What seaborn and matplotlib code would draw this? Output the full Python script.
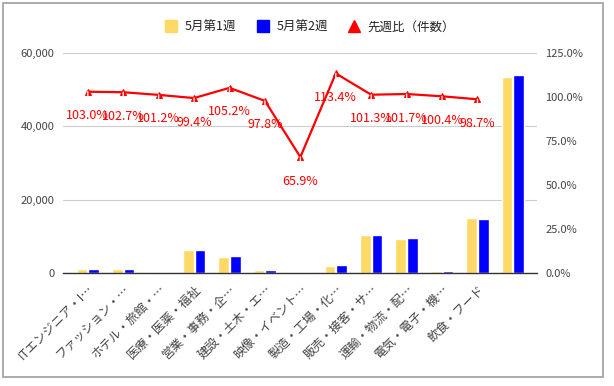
import numpy as np
import pandas as pd
import matplotlib
matplotlib.use("Agg")
import matplotlib.pyplot as plt
from matplotlib.lines import Line2D
from matplotlib.patches import Rectangle
from matplotlib.ticker import FuncFormatter
import seaborn as sns

categories = [
    "ITエンジニア・I…", "ファッション・…", "ホテル・旅館・…", "医療・医薬・福祉",
    "営業・事務・企…", "建設・土木・エ…", "映像・イベント…", "製造・工場・化…",
    "販売・接客・サ…", "運輸・物流・配…", "電気・電子・機…", "飲食・フード", "",
]
week1 = [1150, 1000, 350, 6270, 4360, 900, 320, 1900, 10360, 9270, 560, 15000, 53450]
week2 = [1185, 1030, 355, 6230, 4590, 880, 210, 2155, 10500, 9430, 562, 14800, 54000]
ratio = [103.0, 102.7, 101.2, 99.4, 105.2, 97.8, 65.9, 113.4, 101.3, 101.7, 100.4, 98.7]
series_names = ["5月第1週", "5月第2週"]
ratio_name = "先週比（件数）"

colors = {"5月第1週": "#ffd966", "5月第2週": "#0000ff"}
line_color = "#ff0000"

sns.set_theme(style="white")
plt.rcParams["font.family"] = ["Noto Sans CJK JP", "DejaVu Sans"]

bars = pd.DataFrame({
    "category": categories * 2,
    "series": [series_names[0]] * len(week1) + [series_names[1]] * len(week2),
    "value": week1 + week2,
})
bars["slot"] = list(range(len(categories))) * 2

fig = plt.figure(figsize=(6.14, 3.86), dpi=100)
ax = fig.add_axes([63 / 614, 1 - 273 / 386, 474 / 614, 220 / 386])

sns.barplot(data=bars, x="slot", y="value", hue="series", palette=colors,
            width=0.66, gap=0.08, ax=ax, legend=False, saturation=1)
ax.set_xlim(-0.7, 12.68)
ax.set_ylim(0, 60000)
ax.set_yticks([0, 20000, 40000, 60000])
ax.yaxis.set_major_formatter(FuncFormatter(lambda v, p: f"{v:,.0f}"))
ax.grid(axis="y", color="#cccccc", linewidth=0.8)
ax.set_axisbelow(True)
ax.set_xlabel("")
ax.set_ylabel("")
ax.set_xticks(range(len(categories)))
ax.set_xticklabels(categories, rotation=45, ha="right", rotation_mode="anchor",
                   fontsize=8.8, color="#444444")
ax.tick_params(axis="y", labelsize=8, labelcolor="#444444", length=0, pad=6)
ax.tick_params(axis="x", length=0, pad=7)
for s in ["top", "right", "left"]:
    ax.spines[s].set_visible(False)
ax.spines["bottom"].set_color("#333333")
ax.spines["bottom"].set_linewidth(1)

ax2 = ax.twinx()
line_df = pd.DataFrame({"pos": np.arange(len(ratio)), "ratio": ratio})
sns.lineplot(data=line_df, x="pos", y="ratio", ax=ax2, color=line_color,
             linewidth=1.6, marker="^", markersize=5, markeredgecolor=line_color)
ax2.set_ylim(0, 125)
ax2.set_yticks([0, 25, 50, 75, 100, 125])
ax2.yaxis.set_major_formatter(FuncFormatter(lambda v, p: f"{v:.1f}%"))
ax2.tick_params(axis="y", labelsize=8, labelcolor="#444444", length=0, pad=6)
ax2.set_ylabel("")
ax2.set_xlabel("")
for s in ax2.spines.values():
    s.set_visible(False)
ax2.set_xlim(ax.get_xlim())

for i, r in enumerate(ratio):
    ax2.annotate(f"{r:.1f}%", xy=(i, r), xytext=(0, -24), textcoords="offset pixels",
                 ha="center", va="center", fontsize=9, color=line_color,
                 arrowprops=dict(arrowstyle="-", color="#eeeeee", lw=1,
                                 shrinkA=7, shrinkB=0))

handles = [
    Line2D([], [], marker="s", linestyle="", markersize=9,
           markerfacecolor=colors[series_names[0]], markeredgecolor=colors[series_names[0]]),
    Line2D([], [], marker="s", linestyle="", markersize=9,
           markerfacecolor=colors[series_names[1]], markeredgecolor=colors[series_names[1]]),
    Line2D([], [], marker="^", linestyle="", markersize=9,
           markerfacecolor=line_color, markeredgecolor=line_color),
]
fig.legend(handles, series_names + [ratio_name], loc="center",
           bbox_to_anchor=(310 / 614, 1 - 27 / 386), ncol=3, frameon=False,
           fontsize=9, handletextpad=0.6, columnspacing=1.6, handlelength=1,
           labelcolor="#222222")

fig.add_artist(Rectangle((3 / 614, 1 - 377 / 386), 600 / 614, 374 / 386,
                         transform=fig.transFigure, fill=False,
                         edgecolor="#9e9e9e", linewidth=1.2))

fig.savefig("out.png", dpi=100)
